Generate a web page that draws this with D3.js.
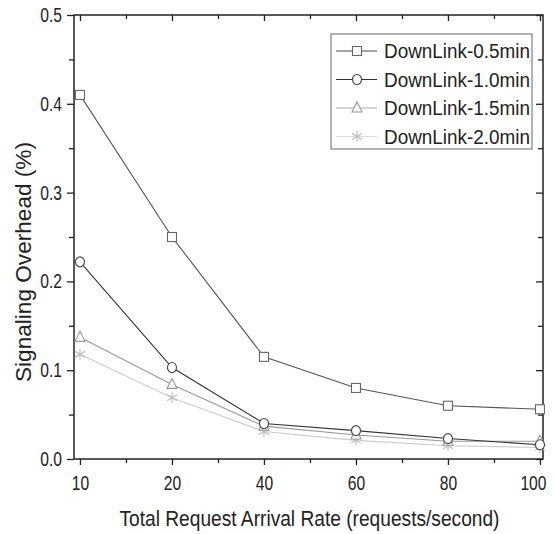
<!DOCTYPE html>
<html>
<head>
<meta charset="utf-8">
<script src="https://cdn.jsdelivr.net/npm/d3@7"></script>
<style>
  body { margin: 0; background: #fff; }
  text { font-family: "Liberation Sans", Arial, sans-serif; fill: #222; }
</style>
</head>
<body>
<svg id="chart" width="555" height="534"></svg>
<script>
// DATA
const rates = [10, 20, 40, 60, 80, 100];
const yTicks = [0.0, 0.1, 0.2, 0.3, 0.4, 0.5];
const seriesNames = ["DownLink-0.5min", "DownLink-1.0min", "DownLink-1.5min", "DownLink-2.0min"];
const down05 = [0.410, 0.250, 0.115, 0.080, 0.060, 0.056];
const down10 = [0.222, 0.103, 0.040, 0.032, 0.023, 0.016];
const down15 = [0.137, 0.084, 0.037, 0.027, 0.020, 0.020];
const down20 = [0.118, 0.069, 0.031, 0.021, 0.015, 0.013];

const series = [
  { name: seriesNames[0], values: down05, shape: "square", line: "#555", mark: "#666", legLine: "#888" },
  { name: seriesNames[1], values: down10, shape: "circle", line: "#333", mark: "#444", legLine: "#333" },
  { name: seriesNames[2], values: down15, shape: "triangle", line: "#999", mark: "#999", legLine: "#aaa" },
  { name: seriesNames[3], values: down20, shape: "star", line: "#ccc", mark: "#bbb", legLine: "#ddd" }
];

const svg = d3.select("#chart");
const pLeft = 74, pRight = 543, pTop = 15, pBottom = 459;

// the original uses a narrow face; squeeze the installed sans to match
const condense = (sel, f) => sel.each(function () {
  const w = this.getComputedTextLength();
  d3.select(this).attr("textLength", w * f).attr("lengthAdjust", "spacingAndGlyphs");
});

// categorical positions, evenly spaced, a little margin on the left
const x = d3.scaleLinear().domain([-0.065, 5.033]).range([pLeft, pRight]);
const y = d3.scaleLinear().domain([0, 0.5]).range([pBottom, pTop]);

const g = svg.append("g");

// frame
g.append("rect")
  .attr("x", pLeft).attr("y", pTop)
  .attr("width", pRight - pLeft).attr("height", pBottom - pTop)
  .attr("fill", "none").attr("stroke", "#222").attr("stroke-width", 1.5);

// X AXIS (bottom outward, top inward)
const xMajor = d3.range(rates.length);
const xMinor = d3.range(rates.length - 1).map(i => i + 0.5);
const xAxis = d3.axisBottom(x).tickValues(xMajor).tickSize(6).tickPadding(11)
  .tickFormat(i => rates[i]);
const xLab = g.append("g").attr("class", "labelled").attr("transform", `translate(0,${pBottom})`).call(xAxis)
  .call(s => s.select(".domain").remove());
g.append("g").attr("transform", `translate(0,${pBottom})`)
  .call(d3.axisBottom(x).tickValues(xMinor).tickSize(4).tickFormat(""))
  .call(s => s.select(".domain").remove());
g.append("g").attr("transform", `translate(0,${pTop})`)
  .call(d3.axisBottom(x).tickValues(xMajor).tickSize(6).tickFormat(""))
  .call(s => s.select(".domain").remove());
g.append("g").attr("transform", `translate(0,${pTop})`)
  .call(d3.axisBottom(x).tickValues(xMinor).tickSize(4).tickFormat(""))
  .call(s => s.select(".domain").remove());

// Y AXIS (left outward, right inward)
const yMinor = d3.range(0.05, 0.5, 0.1);
g.append("g").attr("class", "labelled").attr("transform", `translate(${pLeft},0)`)
  .call(d3.axisLeft(y).tickValues(yTicks).tickSize(7).tickPadding(5).tickFormat(d3.format(".1f")))
  .call(s => s.select(".domain").remove());
g.append("g").attr("transform", `translate(${pLeft},0)`)
  .call(d3.axisLeft(y).tickValues(yMinor).tickSize(5).tickFormat(""))
  .call(s => s.select(".domain").remove());
g.append("g").attr("transform", `translate(${pRight},0)`)
  .call(d3.axisLeft(y).tickValues(yTicks).tickSize(7).tickFormat(""))
  .call(s => s.select(".domain").remove());
g.append("g").attr("transform", `translate(${pRight},0)`)
  .call(d3.axisLeft(y).tickValues(yMinor).tickSize(5).tickFormat(""))
  .call(s => s.select(".domain").remove());

g.selectAll(".tick line").attr("stroke", "#222").attr("stroke-width", 1.3);
g.selectAll(".labelled .tick text")
  .style("font-family", null).attr("font-size", 20).attr("fill", "#222")
  .call(condense, 0.78);

// last x label sits against the right edge, keep it inside
xLab.selectAll(".tick text").filter((d, i, n) => i === n.length - 1)
  .attr("text-anchor", "end")
  .attr("x", 6);

// AXIS TITLES
svg.append("text")
  .attr("x", 309.5).attr("y", 526)
  .attr("text-anchor", "middle").attr("font-size", 22)
  .attr("textLength", 380).attr("lengthAdjust", "spacingAndGlyphs")
  .text("Total Request Arrival Rate (requests/second)");
svg.append("text")
  .attr("transform", "translate(31,262) rotate(-90)")
  .attr("text-anchor", "middle").attr("font-size", 22)
  .attr("textLength", 240).attr("lengthAdjust", "spacingAndGlyphs")
  .text("Signaling Overhead (%)");

// MARKERS
const drawMarker = (sel, shape, color) => {
  if (shape === "square") {
    sel.append("rect").attr("x", -4.5).attr("y", -4.5).attr("width", 9).attr("height", 9)
      .attr("fill", "#fff").attr("stroke", color).attr("stroke-width", 1.1);
  } else if (shape === "circle") {
    sel.append("ellipse").attr("rx", 4.5).attr("ry", 5)
      .attr("fill", "#fff").attr("stroke", color).attr("stroke-width", 1.1);
  } else if (shape === "triangle") {
    sel.append("path").attr("d", "M0,-6 L5,4 L-5,4 Z")
      .attr("fill", "#fff").attr("stroke", color).attr("stroke-width", 1.1);
  } else {
    sel.append("path").attr("d", "M0,-5.5 V5.5 M-5,-3 L5,3 M-5,3 L5,-3")
      .attr("fill", "none").attr("stroke", color).attr("stroke-width", 1.1);
  }
};

const line = d3.line().x((d, i) => x(i)).y(d => y(d));

// draw lighter series first so darker ones sit on top
series.slice().reverse().forEach(s => {
  g.append("path").datum(s.values).attr("d", line)
    .attr("fill", "none").attr("stroke", s.line).attr("stroke-width", 1.1);
  g.selectAll(null).data(s.values).enter().append("g")
    .attr("transform", (d, i) => `translate(${x(i)},${y(d)})`)
    .each(function () { drawMarker(d3.select(this), s.shape, s.mark); });
});

// LEGEND
const leg = svg.append("g").attr("transform", "translate(331,34)");
leg.append("rect").attr("width", 201).attr("height", 115)
  .attr("fill", "#fff").attr("stroke", "#666").attr("stroke-width", 1);
series.forEach((s, i) => {
  const row = leg.append("g").attr("transform", `translate(0,${17 + i * 28.5})`);
  row.append("line").attr("x1", 5).attr("x2", 46)
    .attr("stroke", s.legLine).attr("stroke-width", i === 0 ? 1.6 : 1.1);
  const m = row.append("g").attr("transform", "translate(26,0)");
  drawMarker(m, s.shape, s.mark);
  row.append("text").attr("x", 53).attr("y", 7).attr("font-size", 20)
    .attr("textLength", 146).attr("lengthAdjust", "spacingAndGlyphs")
    .text(s.name);
});
</script>
</body>
</html>
